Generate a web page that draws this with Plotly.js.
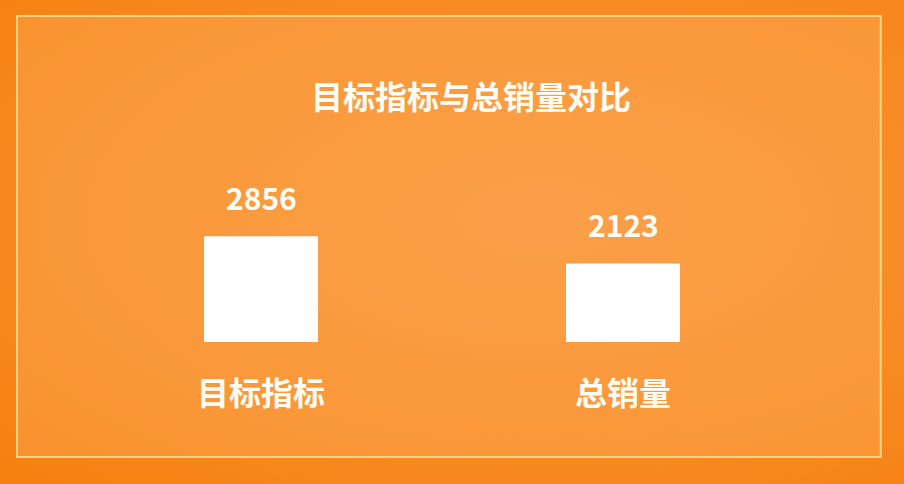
<!DOCTYPE html>
<html>
<head>
<meta charset="utf-8">
<script src="https://cdn.plot.ly/plotly-3.0.1.min.js"></script>
<style>
html,body{margin:0;padding:0;width:904px;height:484px;overflow:hidden;
background:radial-gradient(ellipse at 60% 45%, #f99438 0%, #f88a22 60%, #f5800f 100%);}
#chart{width:904px;height:484px;}
</style>
</head>
<body>
<div id="chart"></div>
<script>
var categories = ['目标指标', '总销量'];
var values = [2856, 2123];
var chartTitle = '目标指标与总销量对比';

var FONT = '"Noto Sans CJK SC", "Noto Sans", sans-serif';

var trace = {
  type: 'bar',
  x: categories,
  y: values,
  marker: {color: '#ffffff', line: {width: 0}},
  hoverinfo: 'none'
};

var annotations = categories.map(function (c, i) {
  return {
    x: c, y: values[i], xref: 'x', yref: 'y',
    text: String(values[i]), showarrow: false,
    yanchor: 'bottom', yshift: 15,
    font: {family: FONT, size: 30, color: '#fffdf6', weight: 'bold'}
  };
});

var layout = {
  width: 904, height: 484,
  paper_bgcolor: 'rgba(0,0,0,0)',
  plot_bgcolor: 'rgba(0,0,0,0)',
  margin: {l: 80, r: 100, t: 194, b: 142, pad: 0},
  showlegend: false,
  bargap: 0.685,
  title: {
    text: chartTitle,
    xref: 'container', yref: 'container',
    x: 0.521, y: 0.798, xanchor: 'center', yanchor: 'middle',
    font: {family: FONT, size: 32, color: '#fffdf6', weight: 'bold'}
  },
  xaxis: {
    type: 'category',
    range: [-0.5, 1.5],
    showgrid: false, zeroline: false, showline: false,
    ticks: '',
    ticklabelstandoff: 30,
    tickfont: {family: FONT, size: 32, color: '#fffdf6', weight: 'bold'},
    fixedrange: true
  },
  yaxis: {
    range: [0, 4000],
    showgrid: false, zeroline: false, showline: false,
    showticklabels: false, ticks: '',
    fixedrange: true
  },
  shapes: [{
    type: 'rect', xref: 'paper', yref: 'paper', layer: 'below',
    x0: -0.087, x1: 1.106, y0: -0.777, y1: 2.203,
    fillcolor: 'rgba(255,190,120,0.28)',
    line: {color: '#ffd27f', width: 2}
  }],
  annotations: annotations
};

Plotly.newPlot('chart', [trace], layout, {displayModeBar: false, staticPlot: true});
</script>
</body>
</html>
